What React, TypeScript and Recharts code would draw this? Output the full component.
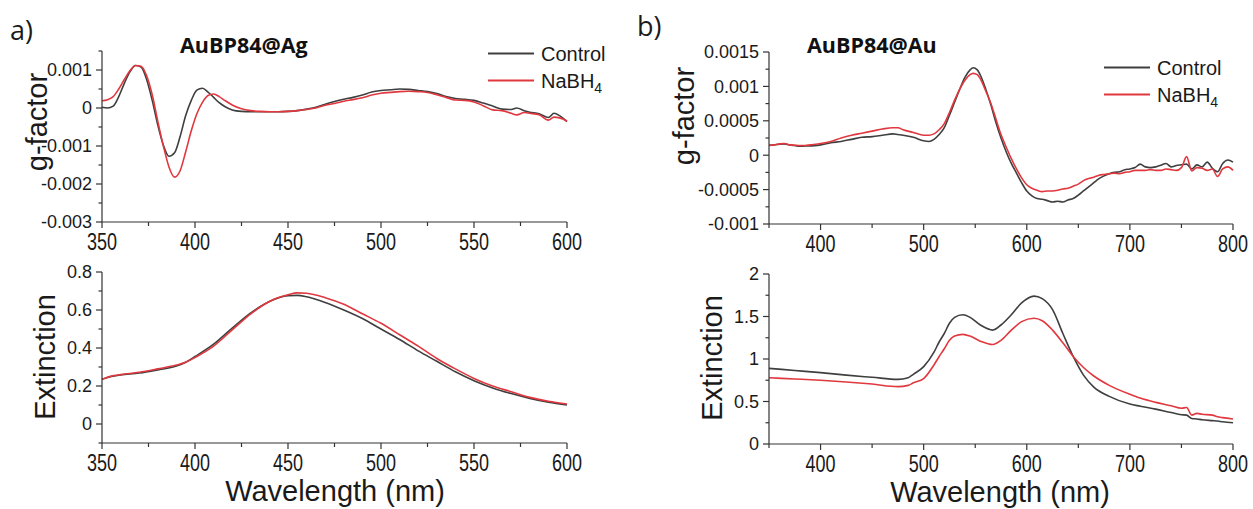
import { LineChart, Line, XAxis, YAxis } from 'recharts'

const CONTROL_COLOR = '#3f3f3f'
const NABH4_COLOR = '#e0383e'
const AXIS_COLOR = '#333333'
const FONT = '"Liberation Sans", Arial, sans-serif'
const TITLE_FONT = '"Open Sans", "DejaVu Sans", sans-serif'

// a) AuBP84@Ag, g-factor (values x 10^-3)
const agGWavelength = [
  350, 353, 356, 359, 362, 365, 368, 371, 374, 377, 380, 383, 386, 389, 392, 395, 398, 401, 404, 407, 410, 413, 416,
  420, 425, 430, 435, 440, 445, 450, 455, 460, 465, 470, 475, 480, 485, 490, 495, 500, 505, 510, 515, 520, 525, 530,
  535, 540, 545, 550, 555, 560, 565, 570, 573, 577, 580, 585, 590, 593, 596, 600,
]
const agGControl = [
  0.02, 0.0, 0.05, 0.3, 0.65, 0.95, 1.12, 1.08, 0.75, 0.2, -0.45, -0.98, -1.27, -1.18, -0.75, -0.2, 0.2, 0.47, 0.52,
  0.42, 0.28, 0.14, 0.04, -0.05, -0.09, -0.1, -0.1, -0.1, -0.1, -0.09, -0.07, -0.03, 0.02, 0.1, 0.17, 0.23, 0.28,
  0.34, 0.42, 0.46, 0.48, 0.5, 0.49, 0.46, 0.43, 0.38, 0.3, 0.25, 0.23, 0.2, 0.13, 0.05, -0.03, -0.04, 0.0, -0.07,
  -0.11, -0.15, -0.25, -0.14, -0.2, -0.36,
]
const agGNabh4 = [
  0.19, 0.22, 0.3, 0.5, 0.75, 0.98, 1.12, 1.1, 0.85, 0.35, -0.35, -1.0, -1.55, -1.82, -1.65, -1.15, -0.6, -0.15, 0.15,
  0.33, 0.37, 0.3, 0.2, 0.08, -0.02, -0.07, -0.09, -0.1, -0.1, -0.09, -0.07, -0.04, 0.0, 0.07, 0.12, 0.18, 0.22, 0.27,
  0.34, 0.39, 0.41, 0.43, 0.44, 0.43, 0.41, 0.35, 0.28, 0.21, 0.2, 0.16, 0.06, -0.05, -0.07, -0.14, -0.18, -0.12,
  -0.14, -0.18, -0.32, -0.24, -0.26, -0.34,
]

// a) AuBP84@Ag, extinction
const agExtWavelength = [
  350, 355, 360, 370, 380, 390, 395, 400, 410, 420, 430, 440, 450, 455, 460, 470, 480, 490, 500, 510, 520, 530, 540,
  550, 560, 570, 580, 590, 600,
]
const agExtControl = [
  0.235, 0.25, 0.258, 0.268, 0.285, 0.305, 0.325, 0.355, 0.42, 0.505, 0.585, 0.645, 0.675, 0.677, 0.67, 0.64, 0.6,
  0.555, 0.5, 0.445, 0.385, 0.33, 0.275, 0.228, 0.19, 0.16, 0.135, 0.115, 0.1,
]
const agExtNabh4 = [
  0.235, 0.252, 0.26, 0.272, 0.29, 0.31, 0.325, 0.35, 0.41, 0.495, 0.58, 0.645, 0.68, 0.69, 0.688, 0.665, 0.63, 0.58,
  0.53, 0.47, 0.41, 0.345, 0.29, 0.24, 0.2, 0.17, 0.14, 0.12, 0.105,
]

// b) AuBP84@Au, g-factor (values x 10^-3)
const auGWavelength = [
  350, 355, 360, 365, 370, 375, 380, 385, 390, 400, 410, 420, 430, 440, 450, 460, 470, 475, 480, 490, 500, 505, 510,
  515, 520, 525, 530, 535, 540, 545, 548, 552, 556, 560, 565, 570, 575, 580, 585, 590, 595, 600, 605, 610, 615, 620,
  625, 630, 635, 640, 645, 650, 655, 660, 665, 670, 675, 680, 685, 690, 695, 700, 705, 710, 715, 720, 725, 730, 735,
  740, 745, 750, 755, 760, 765, 770, 775, 780, 785, 790, 795, 800,
]
const auGControl = [
  0.145, 0.15, 0.16, 0.165, 0.15, 0.14, 0.13, 0.135, 0.135, 0.15, 0.18, 0.2, 0.23, 0.26, 0.27, 0.29, 0.31, 0.3, 0.29,
  0.26, 0.21, 0.2, 0.23, 0.3, 0.4, 0.58, 0.77, 0.96, 1.13, 1.24, 1.27, 1.24, 1.13, 0.97, 0.74, 0.48, 0.25, 0.05,
  -0.12, -0.26, -0.4, -0.52, -0.59, -0.63, -0.64, -0.66, -0.68, -0.67, -0.68, -0.65, -0.63, -0.58, -0.52, -0.46,
  -0.4, -0.34, -0.3, -0.27, -0.25, -0.24, -0.21, -0.2, -0.18, -0.13, -0.17, -0.18, -0.17, -0.145, -0.12, -0.17,
  -0.15, -0.14, -0.13, -0.2, -0.14, -0.17, -0.1, -0.19, -0.24, -0.12, -0.07, -0.1,
]
const auGNabh4 = [
  0.14, 0.15, 0.165, 0.17, 0.15, 0.145, 0.14, 0.14, 0.15, 0.17, 0.2, 0.25, 0.29, 0.32, 0.35, 0.38, 0.4, 0.4, 0.37,
  0.33, 0.29, 0.29, 0.31, 0.37, 0.46, 0.62, 0.8, 0.96, 1.09, 1.17, 1.19, 1.17, 1.08, 0.94, 0.76, 0.53, 0.3, 0.12,
  -0.05, -0.2, -0.33, -0.43, -0.48, -0.51, -0.53, -0.52, -0.52, -0.51, -0.49, -0.48, -0.45, -0.42, -0.37, -0.34,
  -0.32, -0.29, -0.28, -0.27, -0.26, -0.27, -0.25, -0.24, -0.22, -0.22, -0.22, -0.21, -0.22, -0.22, -0.2, -0.21,
  -0.22, -0.18, -0.02, -0.23, -0.18, -0.19, -0.22, -0.2, -0.31, -0.2, -0.17, -0.22,
]

// b) AuBP84@Au, extinction
const auExtWavelength = [
  350, 375, 400, 425, 450, 475, 485, 490, 500, 510, 515, 520, 525, 530, 538, 545, 555, 567, 575, 585, 595, 607, 615,
  625, 635, 645, 655, 665, 680, 700, 710, 725, 740, 750, 755, 760, 765, 770, 780, 785, 790, 800,
]
const auExtControl = [
  0.89, 0.865, 0.84, 0.81, 0.785, 0.76, 0.78, 0.82, 0.91, 1.08, 1.2, 1.3, 1.42, 1.49, 1.52, 1.49, 1.4, 1.34, 1.4,
  1.52, 1.66, 1.74, 1.71, 1.58, 1.3, 1.03, 0.81, 0.67, 0.56, 0.47, 0.445, 0.41, 0.37, 0.345, 0.34, 0.3, 0.295, 0.285,
  0.275, 0.27, 0.262, 0.25,
]
const auExtNabh4 = [
  0.78, 0.765, 0.75, 0.73, 0.705, 0.675, 0.69, 0.72, 0.77, 0.93, 1.03, 1.12, 1.22, 1.27, 1.29, 1.27, 1.21, 1.17, 1.22,
  1.34, 1.44, 1.48, 1.45, 1.34, 1.19, 1.03, 0.9, 0.8, 0.69, 0.585, 0.54, 0.49, 0.45, 0.42, 0.43, 0.34, 0.36, 0.35,
  0.34, 0.32, 0.31, 0.295,
]

// axis ticks (all) and the ones that carry a label
const agXTicks = [350, 375, 400, 425, 450, 475, 500, 525, 550, 575, 600]
const agXLabels = [350, 400, 450, 500, 550, 600]
const agGTicks = [-0.003, -0.0025, -0.002, -0.0015, -0.001, -0.0005, 0, 0.0005, 0.001, 0.0015]
const agGLabels = [-0.003, -0.002, -0.001, 0, 0.001]
const agExtTicks = [-0.1, 0, 0.1, 0.2, 0.3, 0.4, 0.5, 0.6, 0.7, 0.8]
const agExtLabels = [0, 0.2, 0.4, 0.6, 0.8]
const auXTicks = [350, 400, 450, 500, 550, 600, 650, 700, 750, 800]
const auXLabels = [400, 500, 600, 700, 800]
const auGTicks = [-0.001, -0.00075, -0.0005, -0.00025, 0, 0.00025, 0.0005, 0.00075, 0.001, 0.00125, 0.0015]
const auGLabels = [-0.001, -0.0005, 0, 0.0005, 0.001, 0.0015]
const auExtTicks = [0, 0.25, 0.5, 0.75, 1, 1.25, 1.5, 1.75, 2]
const auExtLabels = [0, 0.5, 1, 1.5, 2]

interface Row {
  wl: number
  control: number
  nabh4: number
}

const buildRows = (wl: number[], control: number[], nabh4: number[], scale = 1): Row[] =>
  wl.map((w, i) => ({ wl: w, control: control[i] * scale, nabh4: nabh4[i] * scale }))

const agGRows = buildRows(agGWavelength, agGControl, agGNabh4, 1e-3)
const agExtRows = buildRows(agExtWavelength, agExtControl, agExtNabh4)
const auGRows = buildRows(auGWavelength, auGControl, auGNabh4, 1e-3)
const auExtRows = buildRows(auExtWavelength, auExtControl, auExtNabh4)

const makeXTick = (labels: number[]) => (props: any) => {
  const { x, y, payload } = props
  const major = labels.includes(payload.value)
  return (
    <g>
      <line x1={x} x2={x} y1={y} y2={y + (major ? 6 : 4)} stroke={AXIS_COLOR} strokeWidth={1.2} />
      {major && (
        <text
          transform={`translate(${x},${y + 28}) scale(1,1.3)`}
          textAnchor="middle"
          fontFamily={FONT}
          fontSize={18}
          fill="#1a1a1a"
        >
          {payload.value}
        </text>
      )}
    </g>
  )
}

const makeYTick = (labels: number[]) => (props: any) => {
  const { x, y, payload } = props
  const major = labels.includes(payload.value)
  return (
    <g>
      <line x1={x - (major ? 6 : 3.5)} x2={x} y1={y} y2={y} stroke={AXIS_COLOR} strokeWidth={1.2} />
      {major && (
        <text x={x - 10} y={y} dy="0.36em" textAnchor="end" fontFamily={FONT} fontSize={18} fill="#1a1a1a">
          {String(payload.value)}
        </text>
      )}
    </g>
  )
}

const PAD_L = 90
const PAD_T = 10
const PAD_R = 20
const PAD_B = 40

interface PanelProps {
  plotLeft: number
  plotTop: number
  plotWidth: number
  plotHeight: number
  rows: Row[]
  xDomain: [number, number]
  xTicks: number[]
  xLabels: number[]
  yDomain: [number, number]
  yTicks: number[]
  yLabels: number[]
}

function Panel(p: PanelProps) {
  return (
    <div style={{ position: 'absolute', left: p.plotLeft - PAD_L, top: p.plotTop - PAD_T }}>
      <LineChart
        width={p.plotWidth + PAD_L + PAD_R}
        height={p.plotHeight + PAD_T + PAD_B}
        data={p.rows}
        margin={{ top: PAD_T, right: PAD_R, bottom: 0, left: 0 }}
      >
        <XAxis
          dataKey="wl"
          type="number"
          domain={p.xDomain}
          ticks={p.xTicks}
          height={PAD_B}
          tickSize={0}
          tickMargin={0}
          tickLine={false}
          axisLine={{ stroke: AXIS_COLOR, strokeWidth: 1.2 }}
          tick={makeXTick(p.xLabels)}
          interval={0}
        />
        <YAxis
          type="number"
          domain={p.yDomain}
          ticks={p.yTicks}
          width={PAD_L}
          tickSize={0}
          tickMargin={0}
          tickLine={false}
          axisLine={{ stroke: AXIS_COLOR, strokeWidth: 1.2 }}
          tick={makeYTick(p.yLabels)}
          interval={0}
          allowDataOverflow
        />
        <Line
          dataKey="control"
          type="monotone"
          stroke={CONTROL_COLOR}
          strokeWidth={1.6}
          dot={false}
          isAnimationActive={false}
        />
        <Line
          dataKey="nabh4"
          type="monotone"
          stroke={NABH4_COLOR}
          strokeWidth={1.6}
          dot={false}
          isAnimationActive={false}
        />
      </LineChart>
    </div>
  )
}

function LegendBox({ x, y }: { x: number; y: number }) {
  return (
    <g fontFamily={FONT} fontSize={20} fill="#1a1a1a">
      <line x1={x} x2={x + 46} y1={y} y2={y} stroke={CONTROL_COLOR} strokeWidth={1.8} />
      <text x={x + 53} y={y} dy="0.36em">
        Control
      </text>
      <line x1={x} x2={x + 46} y1={y + 27} y2={y + 27} stroke={NABH4_COLOR} strokeWidth={1.8} />
      <text x={x + 53} y={y + 27} dy="0.36em">
        NaBH
        <tspan fontSize={14} dy={5}>
          4
        </tspan>
      </text>
    </g>
  )
}

export default function App() {
  return (
    <div style={{ position: 'absolute', left: 0, top: 0, width: 1253, height: 509, background: '#fff' }}>
      <Panel
        plotLeft={102}
        plotTop={51}
        plotWidth={465}
        plotHeight={171}
        rows={agGRows}
        xDomain={[350, 600]}
        xTicks={agXTicks}
        xLabels={agXLabels}
        yDomain={[-0.003, 0.0015]}
        yTicks={agGTicks}
        yLabels={agGLabels}
      />
      <Panel
        plotLeft={102}
        plotTop={272}
        plotWidth={465}
        plotHeight={171}
        rows={agExtRows}
        xDomain={[350, 600]}
        xTicks={agXTicks}
        xLabels={agXLabels}
        yDomain={[-0.1, 0.8]}
        yTicks={agExtTicks}
        yLabels={agExtLabels}
      />
      <Panel
        plotLeft={769}
        plotTop={52}
        plotWidth={464}
        plotHeight={172}
        rows={auGRows}
        xDomain={[350, 800]}
        xTicks={auXTicks}
        xLabels={auXLabels}
        yDomain={[-0.001, 0.0015]}
        yTicks={auGTicks}
        yLabels={auGLabels}
      />
      <Panel
        plotLeft={769}
        plotTop={274}
        plotWidth={464}
        plotHeight={170}
        rows={auExtRows}
        xDomain={[350, 800]}
        xTicks={auXTicks}
        xLabels={auXLabels}
        yDomain={[0, 2]}
        yTicks={auExtTicks}
        yLabels={auExtLabels}
      />
      <svg
        width={1253}
        height={509}
        style={{ position: 'absolute', left: 0, top: 0, pointerEvents: 'none' }}
      >
        <text x={10} y={40} fontFamily={TITLE_FONT} fontSize={27} fill="#1a1a1a">
          a)
        </text>
        <text x={637} y={36} fontFamily={TITLE_FONT} fontSize={27} fill="#1a1a1a">
          b)
        </text>
        <text x={180} y={53} fontFamily={TITLE_FONT} fontWeight={700} fontSize={21.5} fill="#111">
          AuBP84@Ag
        </text>
        <text x={807} y={53} fontFamily={TITLE_FONT} fontWeight={700} fontSize={21.5} fill="#111">
          AuBP84@Au
        </text>
        <g fontFamily={FONT} fontSize={29} fill="#1a1a1a" textAnchor="middle">
          <text transform="translate(47,122) rotate(-90)">g-factor</text>
          <text transform="translate(55,357) rotate(-90)">Extinction</text>
          <text transform="translate(694,116) rotate(-90)">g-factor</text>
          <text transform="translate(722,358) rotate(-90)">Extinction</text>
          <text x={335} y={501}>Wavelength (nm)</text>
          <text x={1000} y={502}>Wavelength (nm)</text>
        </g>
        <LegendBox x={488} y={53.5} />
        <LegendBox x={1104} y={67.5} />
      </svg>
    </div>
  )
}
